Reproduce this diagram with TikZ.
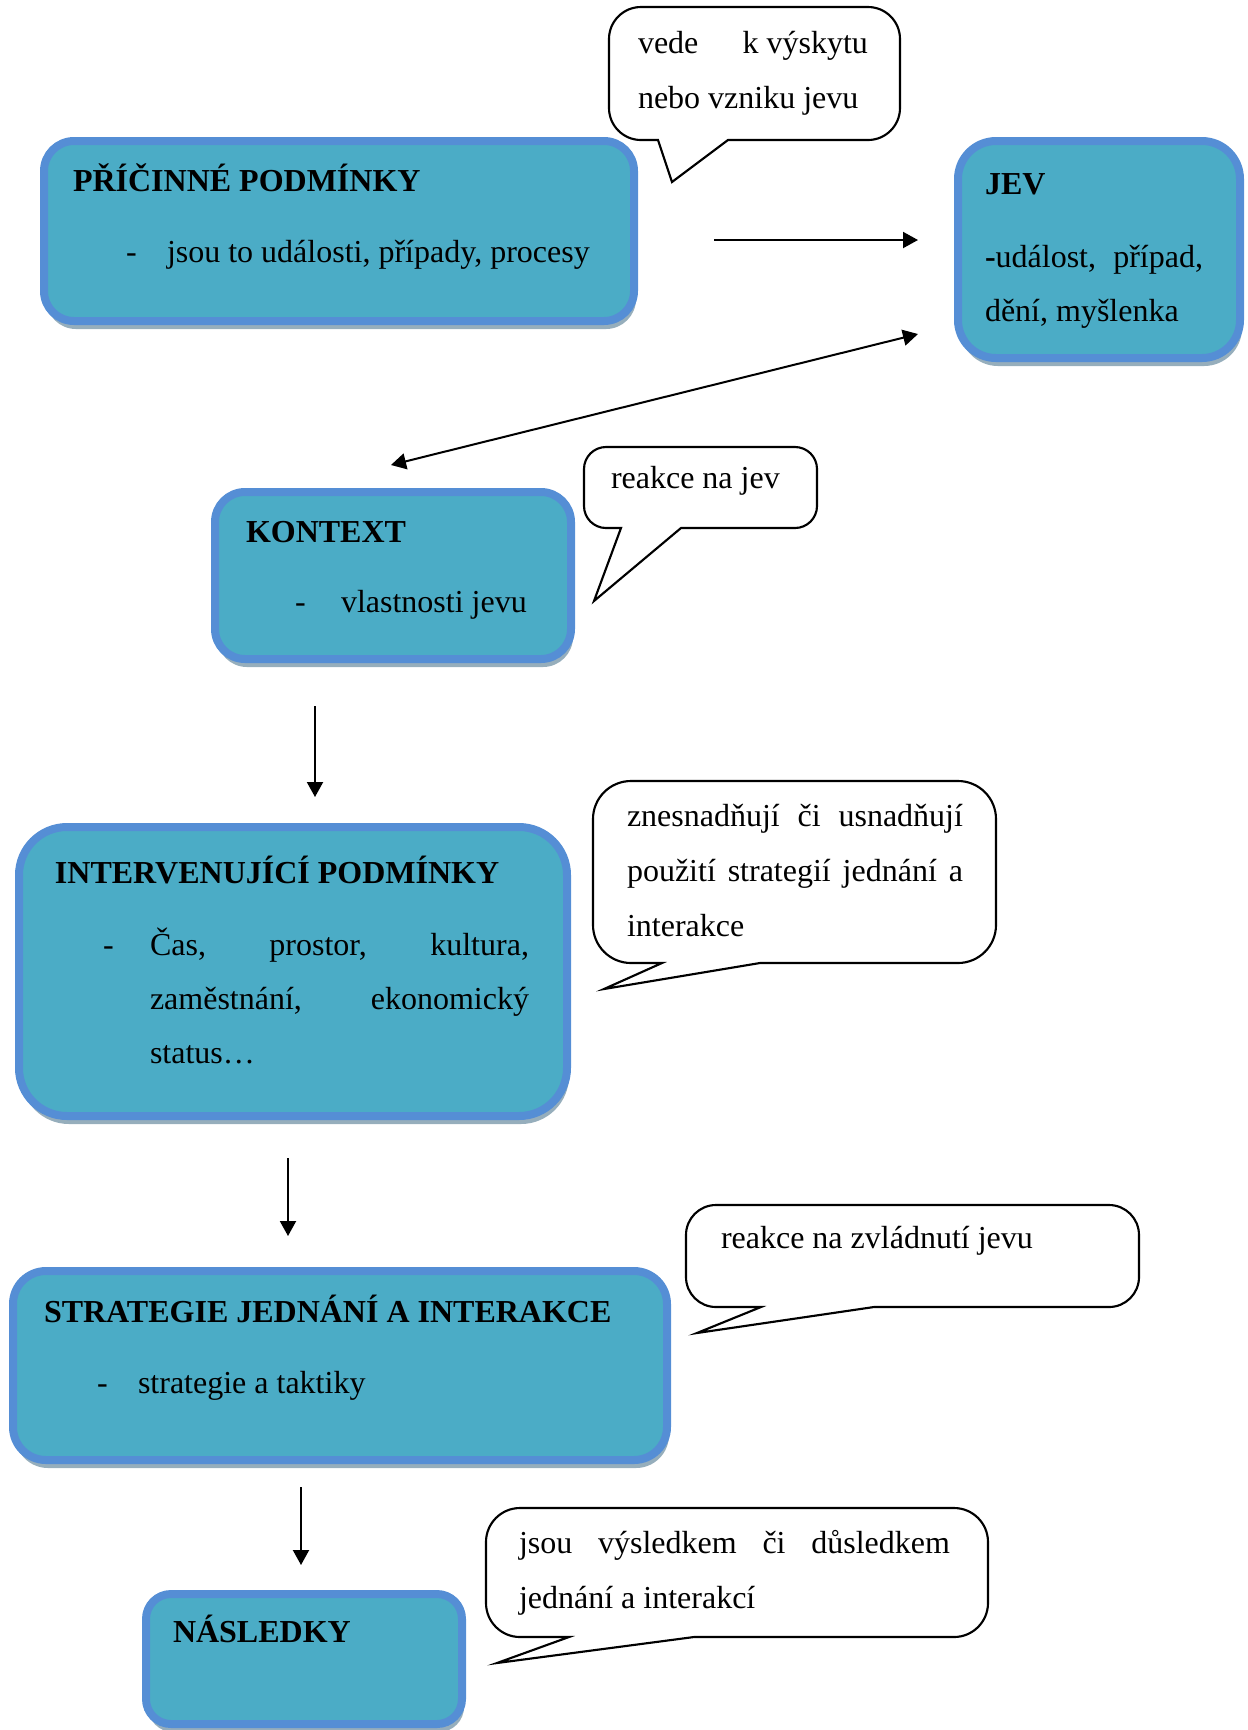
\documentclass[tikz,border=0pt]{standalone}
\usepackage{fontspec}
\setmainfont{Liberation Serif}
\usetikzlibrary{arrows.meta,shadows}
\definecolor{boxfill}{RGB}{75,172,198}
\definecolor{boxline}{RGB}{85,142,213}
\definecolor{shadowc}{RGB}{150,174,188}
\newcommand\bubble[9]{%
  \draw[bubbleline] (#6,#4) -- (#1+#5,#4) arc[start angle=90,end angle=180,radius=#5]
    -- (#1,#2+#5) arc[start angle=180,end angle=270,radius=#5]
    -- (#3-#5,#2) arc[start angle=270,end angle=360,radius=#5]
    -- (#3,#4-#5) arc[start angle=0,end angle=90,radius=#5]
    -- (#9,#4) -- (#7,#8) -- cycle;}
\begin{document}
\begin{tikzpicture}[x=0.375pt,y=-0.375pt,
  font=\fontsize{12}{20.5}\selectfont,
  cbox/.style={draw=boxline, fill=boxfill, line width=3pt, inner sep=0pt,
    drop shadow={shadow xshift=0.75pt, shadow yshift=-3pt, fill=shadowc, opacity=1}},
  txt/.style={inner sep=0pt, outer sep=0pt, anchor=base west},
  bubbleline/.style={draw=black, line width=0.8pt, fill=white, line join=miter},
  arr/.style={line width=0.75pt, -{Triangle[length=5.625pt,width=6pt]}},
  darr/.style={line width=0.75pt, {Triangle[length=5.625pt,width=6pt]}-{Triangle[length=5.625pt,width=6pt]}}]
\useasboundingbox (0,0) rectangle (1248,1730);

% boxes
\node[cbox, minimum width=221.25pt, minimum height=67.5pt, rounded corners=11.25pt] (b1) at (339,231) {};
\node[cbox, minimum width=105.75pt, minimum height=81.375pt, rounded corners=14.25pt] (b2) at (1099,249.5) {};
\node[cbox, minimum width=133.5pt, minimum height=62.625pt, rounded corners=11.25pt] (b3) at (393,575.5) {};
\node[cbox, minimum width=205.5pt, minimum height=108.375pt, rounded corners=18pt] (b4) at (293,971.5) {};
\node[cbox, minimum width=245.25pt, minimum height=70.875pt, rounded corners=12.375pt] (b5) at (340,1365.5) {};
\node[cbox, minimum width=118.5pt, minimum height=48.75pt, rounded corners=9.375pt] (b6) at (304,1659) {};

% box texts
\node[txt] (t1a) at (73,191) {\bfseries PŘÍČINNÉ PODMÍNKY};
\node[txt] (t1b) at (126,262) {-};
\node[txt] (t1c) at (167,262) {jsou to události, případy, procesy};

\node[txt] (t2a) at (985,194) {\bfseries JEV};
\node[txt] (t2b) at (985,267) {\hbox to 81.75pt{\textbf{-}událost,\hfill případ,}};
\node[txt] (t2c) at (985,321) {dění, myšlenka};

\node[txt] (t3a) at (246,542) {\bfseries KONTEXT};
\node[txt] (t3b) at (295,612) {-};
\node[txt] (t3c) at (341,612) {vlastnosti jevu};

\node[txt] (t4a) at (55,883) {\bfseries INTERVENUJÍCÍ PODMÍNKY};
\node[txt] (t4b) at (103,955) {-};
\node[txt] (t4c) at (150,955) {\hbox to 142.125pt{Čas,\hfill prostor,\hfill kultura,}};
\node[txt] (t4d) at (150,1009) {\hbox to 142.125pt{zaměstnání,\hfill ekonomický}};
\node[txt] (t4e) at (150,1063) {status…};

\node[txt] (t5a) at (44,1322) {\bfseries STRATEGIE JEDNÁNÍ A INTERAKCE};
\node[txt] (t5b) at (97,1393) {-};
\node[txt] (t5c) at (138,1393) {strategie a taktiky};

\node[txt] (t6a) at (173,1642) {\bfseries NÁSLEDKY};

% callouts
\bubble{609}{7}{900}{140}{32}{658}{672}{182}{728}
\bubble{584}{447}{817}{528}{22}{621}{594}{601}{681}
\bubble{593}{781}{996}{963}{38}{662}{604}{989}{760}
\bubble{686}{1205}{1139}{1307}{30}{761}{697}{1333}{874}
\bubble{486}{1508}{988}{1637}{34}{569}{497}{1663}{694}

\node[txt] (c1a) at (638,53) {\hbox to 86.25pt{vede\hfill k výskytu}};
\node[txt] (c1b) at (638,108) {nebo vzniku jevu};
\node[txt] (c2a) at (611,488) {reakce na jev};
\node[txt] (c3a) at (627,826) {\hbox to 126pt{znesnadňují\hfill či\hfill usnadňují}};
\node[txt] (c3b) at (627,881) {\hbox to 126pt{použití\hfill strategií\hfill jednání\hfill a}};
\node[txt] (c3c) at (627,936) {interakce};
\node[txt] (c4a) at (721,1248) {reakce na zvládnutí jevu};
\node[txt] (c5a) at (519,1553) {\hbox to 161.625pt{jsou\hfill výsledkem\hfill či\hfill důsledkem}};
\node[txt] (c5b) at (519,1608) {jednání a interakcí};

% arrows
\coordinate (a1s) at (714,240);  \coordinate (a1e) at (918,240);
\coordinate (a2s) at (918,334);  \coordinate (a2e) at (391,465);
\coordinate (a3s) at (315,706);  \coordinate (a3e) at (315,797);
\coordinate (a4s) at (288,1158); \coordinate (a4e) at (288,1236);
\coordinate (a5s) at (301,1487); \coordinate (a5e) at (301,1565);
\draw[arr] (a1s) -- (a1e);
\draw[darr] (a2s) -- (a2e);
\draw[arr] (a3s) -- (a3e);
\draw[arr] (a4s) -- (a4e);
\draw[arr] (a5s) -- (a5e);
\end{tikzpicture}
\end{document}
